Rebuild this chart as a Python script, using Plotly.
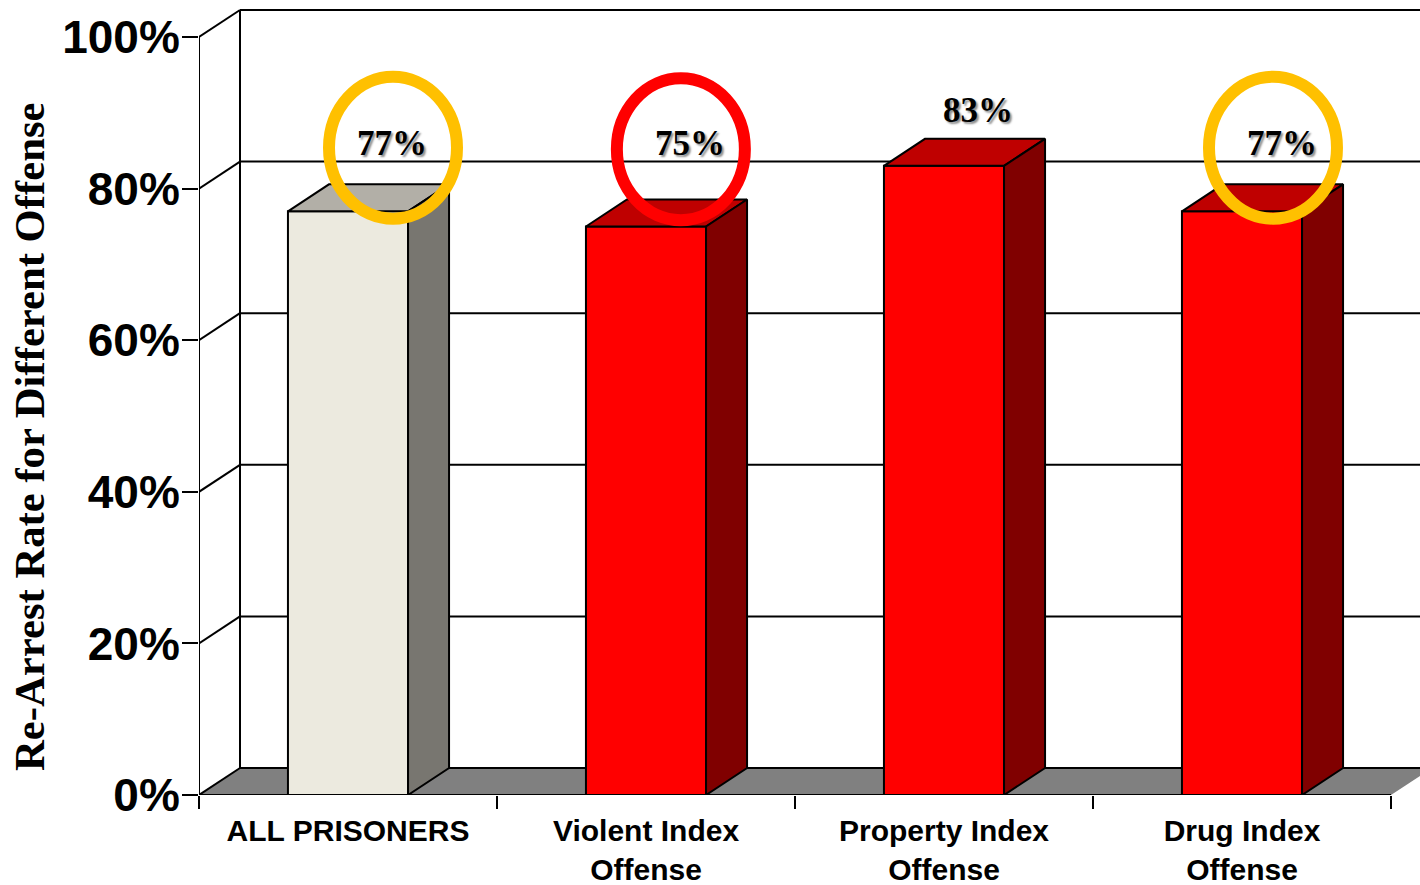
import plotly.graph_objects as go

categories = ["ALL PRISONERS", "Violent Index<br>Offense", "Property Index<br>Offense", "Drug Index<br>Offense"]
values = [77, 75, 83, 77]
value_labels = ["77%", "75%", "83%", "77%"]
y_ticks = [0, 20, 40, 60, 80, 100]
y_tick_labels = ["0%", "20%", "40%", "60%", "80%", "100%"]
front_colors = ["#ECEADF", "#FF0000", "#FF0000", "#FF0000"]
top_colors = ["#B2AFA7", "#BF0000", "#BF0000", "#BF0000"]
side_colors = ["#787670", "#800000", "#800000", "#800000"]
ring_colors = ["#FFC000", "#FF0000", None, "#FFC000"]
label_heights = [86.0, 86.0, 90.3, 86.0]
label_shift = [0.148, 0.148, 0.115, 0.133]
ring_shift = [0.151, 0.117, 0, 0.104]
ring_heights = [85.4, 85.2, 0, 85.4]

W, H = 1420, 885
PX_X = 298.0          # pixels per category
PX_Y = 7.58           # pixels per percent
X0, Y0 = 199, 795     # canvas pixel position of the axes origin
DX = 41 / PX_X        # depth of the 3D effect in data units
DY = 27 / PX_Y
BAR_W = 0.403
X_MIN = -0.5
X_MAX = X_MIN + (W - X0) / PX_X
Y_MAX = Y0 / PX_Y
N = len(categories)
EDGE = dict(color="black", width=2)

shapes = []
# floor
floor = (f"M {X_MIN} 0 L {X_MIN+DX} {DY} L {N-0.5+DX} {DY} L {N-0.5} 0 Z")
shapes.append(dict(type="path", path=floor, fillcolor="#808080",
                   line=dict(color="black", width=0), layer="below"))
# walls, gridlines
for t in y_ticks:
    if t > 0:
        shapes.append(dict(type="line", x0=X_MIN, x1=X_MIN + DX, y0=t, y1=t + DY,
                           line=EDGE, layer="below"))
    shapes.append(dict(type="line", x0=X_MIN + DX, x1=X_MAX, y0=t + DY, y1=t + DY,
                       line=EDGE, layer="below"))
shapes.append(dict(type="line", x0=X_MIN, x1=X_MIN + DX, y0=0, y1=DY, line=EDGE, layer="below"))
shapes.append(dict(type="line", x0=X_MIN, x1=X_MIN, y0=0, y1=100, line=EDGE, layer="below"))
shapes.append(dict(type="line", x0=X_MIN + DX, x1=X_MIN + DX, y0=DY, y1=100 + DY, line=EDGE, layer="below"))
shapes.append(dict(type="line", x0=X_MIN, x1=N - 0.5, y0=0, y1=0, line=EDGE, layer="below"))

fig = go.Figure()
xs = list(range(N))
fig.add_trace(go.Bar(x=xs, y=values, width=BAR_W, marker=dict(color=front_colors, line=EDGE),
                     hoverinfo="skip", showlegend=False))
for i, v in enumerate(values):
    l, r = i - BAR_W / 2, i + BAR_W / 2
    fig.add_trace(go.Scatter(x=[l, l + DX, r + DX, r, l], y=[v, v + DY, v + DY, v, v], mode="lines",
                             fill="toself", fillcolor=top_colors[i], line=EDGE,
                             hoverinfo="skip", showlegend=False))
    fig.add_trace(go.Scatter(x=[r, r + DX, r + DX, r, r], y=[0, DY, v + DY, v, 0], mode="lines",
                             fill="toself", fillcolor=side_colors[i], line=EDGE,
                             hoverinfo="skip", showlegend=False))

# highlight rings
RX, RY = 64 / PX_X, 71 / PX_Y
for i, c in enumerate(ring_colors):
    if c is None:
        continue
    cx = i + ring_shift[i]
    cy = ring_heights[i]
    shapes.append(dict(type="circle", xref="x", yref="y", x0=cx - RX, x1=cx + RX,
                       y0=cy - RY, y1=cy + RY, line=dict(color=c, width=12),
                       fillcolor="rgba(0,0,0,0)", layer="above"))

annotations = []
for i, t in enumerate(value_labels):
    annotations.append(dict(x=i + label_shift[i], y=label_heights[i], text=t, showarrow=False,
                            xanchor="center", yanchor="middle",
                            font=dict(family="Liberation Serif", size=35, color="black", weight=700,
                                      shadow="2px 2px 2px rgba(0,0,0,0.45)")))
annotations.append(dict(xref="paper", yref="paper", x=29 / W, y=1 - 437 / H,
                        text="Re-Arrest Rate for Different Offense",
                        textangle=-90, showarrow=False, xanchor="center", yanchor="middle",
                        font=dict(family="Liberation Serif", size=42.7, color="black", weight=700)))

fig.update_layout(
    template="none",
    width=W, height=H, margin=dict(l=0, r=0, t=0, b=0, pad=0), autosize=False,
    paper_bgcolor="white", plot_bgcolor="white", shapes=shapes, annotations=annotations,
    xaxis=dict(domain=[X0 / W, 1], range=[X_MIN, X_MAX], tickmode="array", tickvals=xs, ticktext=categories,
               ticks="", showgrid=False, zeroline=False, showline=False, automargin=False,
               ticklabelstandoff=15,
               tickfont=dict(family="Liberation Sans", size=30, color="black", weight=700),
               minor=dict(tickmode="array", tickvals=[i - 0.5 for i in range(N + 1)], ticks="outside",
                          ticklen=13, tickwidth=2, tickcolor="black", showgrid=False)),
    yaxis=dict(domain=[(H - Y0) / H, 1], range=[0, Y_MAX], tickmode="array", tickvals=y_ticks,
               ticktext=y_tick_labels, ticks="outside", ticklen=16, tickwidth=2, tickcolor="black",
               showgrid=False, zeroline=False, showline=False, automargin=False,
               ticklabelstandoff=-7,
               tickfont=dict(family="Liberation Sans", size=46, color="black", weight=700)),
)
fig.write_html("out.html", config={"displayModeBar": False},
               post_script="document.body.style.margin='0';document.documentElement.style.overflow='hidden';")
